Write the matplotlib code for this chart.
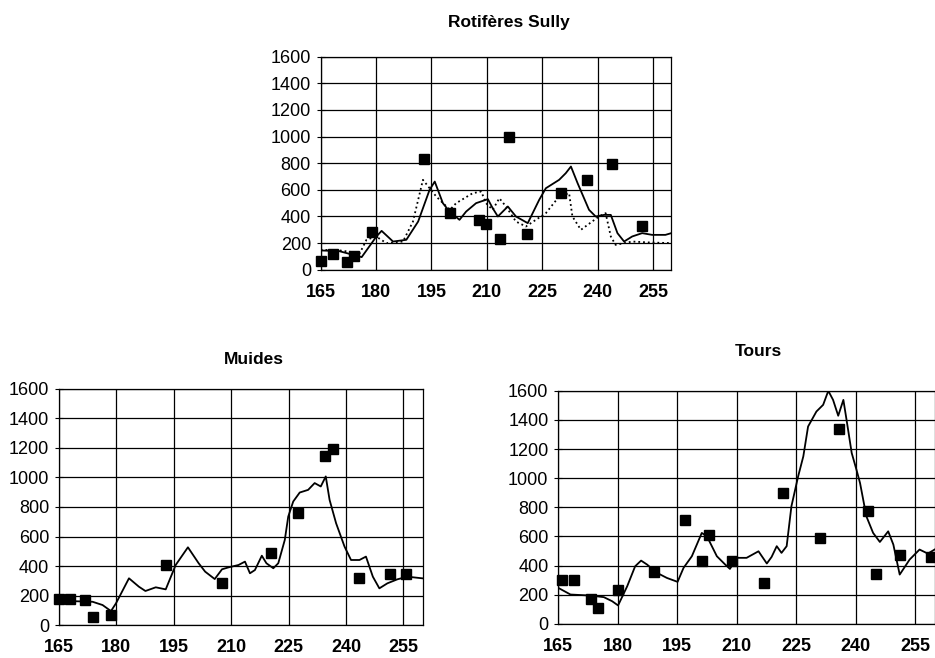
import matplotlib.pyplot as plt

plt.rcParams["font.family"] = ["Liberation Sans", "DejaVu Sans"]

# ---- Rotifères Sully ----
sully_pts_x = [165, 168.2, 172, 174, 179, 193, 200, 207.8, 209.9, 213.7, 216, 221, 230, 237.2, 243.8, 252]
sully_pts_y = [67, 117, 62, 100, 280, 830, 425, 375, 342, 232, 1000, 270, 575, 675, 795, 325]

sully_line_x = [165, 170, 176.1, 180.1, 181.5, 184.6, 188.2, 191.4, 194.5, 195.9, 198.1, 199.9,
                202.6, 204.4, 207.1, 210.3, 211.6, 213, 215.7, 217.9, 221.1, 224.2, 226, 229.6,
                231.4, 232.8, 234.6, 237.7, 239.5, 241.8, 243.6, 245.4, 247.2, 249.4, 252.1,
                254.8, 258.4, 260]
sully_line_y = [145, 140, 95, 250, 292, 212, 225, 362, 600, 662, 500, 437,
                375, 437, 500, 530, 462, 400, 475, 400, 350, 525, 612, 675,
                725, 775, 650, 450, 400, 412, 412, 275, 212, 250, 275,
                262, 262, 275]

sully_dot_x = [165, 170.2, 175.6, 177.4, 180, 182.8, 187.3, 190, 192.7, 196.3, 200, 201.7,
               206.2, 208.5, 209.8, 211.6, 213.4, 215.2, 217.9, 220.6, 226, 229.6, 232.3,
               233.2, 235.5, 240.4, 242.2, 243.6, 244.9, 249.4, 254, 260]
sully_dot_y = [150, 145, 125, 225, 250, 200, 212, 362, 675, 550, 450, 500,
               575, 587, 500, 450, 537, 475, 362, 325, 425, 550, 575,
               400, 300, 400, 425, 250, 187, 212, 205, 200]

# ---- Muides ----
muides_pts_x = [165, 167.8, 171.9, 173.8, 178.6, 192.9, 207.7, 220.5, 227.5, 234.5, 236.5, 243.5, 251.5, 255.6]
muides_pts_y = [179, 179, 170, 57, 66, 407, 283, 486, 762, 1147, 1195, 317, 344, 344]

muides_line_x = [165, 173.8, 176.4, 178.6, 179.9, 183.3, 185.9, 187.6, 190.3, 192.9, 195.5, 198.7,
                 201.5, 203.2, 205.7, 207.6, 209.3, 211.9, 213.6, 214.9, 216.2, 218, 219.2, 221,
                 222.3, 224, 224.9, 226.2, 227.9, 230.1, 231.8, 233.4, 234.7, 235.7, 237.4,
                 239.6, 241.3, 243.5, 245.2, 247, 248.7, 250.8, 253.4, 256, 259.9]
muides_line_y = [165, 158, 136, 95, 147, 317, 260, 231, 256, 242, 407, 527,
                 419, 362, 312, 378, 391, 407, 430, 351, 373, 470, 419, 385,
                 419, 577, 735, 837, 898, 916, 962, 939, 1007, 848, 690,
                 532, 441, 441, 464, 328, 249, 283, 310, 328, 317]

# ---- Tours ----
tours_pts_x = [166, 168.9, 173.3, 175.1, 180, 189.1, 197, 201.2, 203.1, 208.9, 217, 221.7,
               231, 235.8, 243.1, 245.1, 251.1, 259]
tours_pts_y = [299, 304, 171, 110, 231, 354, 715, 434, 608, 434, 277, 898,
               590, 1337, 773, 345, 471, 459]

tours_line_x = [165, 168.1, 173.1, 176.5, 178.6, 180.1, 182.4, 184.4, 185.9, 187.4, 189.9, 192.4,
                195.1, 196.6, 198.7, 201.2, 202.5, 205, 207.1, 208.3, 210, 212.5, 215.5, 217.6,
                218.8, 220.1, 221.3, 222.6, 223.8, 225.5, 226.8, 228, 230.1, 231.8, 233.1,
                234.3, 235.6, 236.9, 237.7, 239, 240.2, 241.1, 242.7, 244.4, 246.1, 248.2,
                249.5, 251.1, 253.6, 256.1, 258.2, 259.9]
tours_line_y = [247, 201, 194, 183, 155, 126, 258, 395, 434, 407, 350, 315,
                288, 384, 464, 624, 601, 464, 407, 377, 453, 453, 498, 414,
                459, 533, 487, 533, 807, 1013, 1150, 1355, 1458, 1504, 1600,
                1538, 1429, 1538, 1401, 1173, 1058, 967, 738, 624, 562, 635,
                544, 338, 441, 510, 482, 510]

x_ticks = [165, 180, 195, 210, 225, 240, 255]
y_ticks = [0, 200, 400, 600, 800, 1000, 1200, 1400, 1600]


def style_axes(ax):
    ax.set_xlim(165, 260)
    ax.set_ylim(0, 1600)
    ax.set_xticks(x_ticks)
    ax.set_yticks(y_ticks)
    ax.set_xticklabels([str(t) for t in x_ticks], fontweight="bold", fontsize=13)
    ax.set_yticklabels([str(t) for t in y_ticks], fontsize=13)
    ax.grid(True, color="black", linewidth=0.9)
    ax.tick_params(direction="inout", length=6, color="black", pad=4)
    ax.tick_params(axis="x", length=0, pad=10)
    for s in ax.spines.values():
        s.set_color("black")
        s.set_linewidth(0.9)
    ax.set_axisbelow(True)


fig = plt.figure(figsize=(9.35, 6.58), dpi=100)

# top panel
ax1 = fig.add_axes([0.343, 0.590, 0.375, 0.324])
style_axes(ax1)
ax1.plot(sully_dot_x, sully_dot_y, color="black", linestyle=":", linewidth=1.3)
ax1.plot(sully_line_x, sully_line_y, color="black", linewidth=1.3)
ax1.plot(sully_pts_x, sully_pts_y, "s", color="black", markersize=7, clip_on=False)
fig.text(509 / 935, 1 - 23 / 658, "Rotifères Sully", ha="center", va="center",
         fontsize=12.5, fontweight="bold")

# bottom left
ax2 = fig.add_axes([0.063, 0.050, 0.389, 0.359])
style_axes(ax2)
ax2.plot(muides_line_x, muides_line_y, color="black", linewidth=1.3)
ax2.plot(muides_pts_x, muides_pts_y, "s", color="black", markersize=7, clip_on=False)
fig.text(254 / 935, 1 - 360 / 658, "Muides", ha="center", va="center",
         fontsize=12.5, fontweight="bold")

# bottom right
ax3 = fig.add_axes([0.597, 0.052, 0.403, 0.354])
style_axes(ax3)
ax3.plot(tours_line_x, tours_line_y, color="black", linewidth=1.3)
ax3.plot(tours_pts_x, tours_pts_y, "s", color="black", markersize=7, clip_on=False)
fig.text(758 / 935, 1 - 352 / 658, "Tours", ha="center", va="center",
         fontsize=12.5, fontweight="bold")

fig.savefig("out.png", dpi=100)
